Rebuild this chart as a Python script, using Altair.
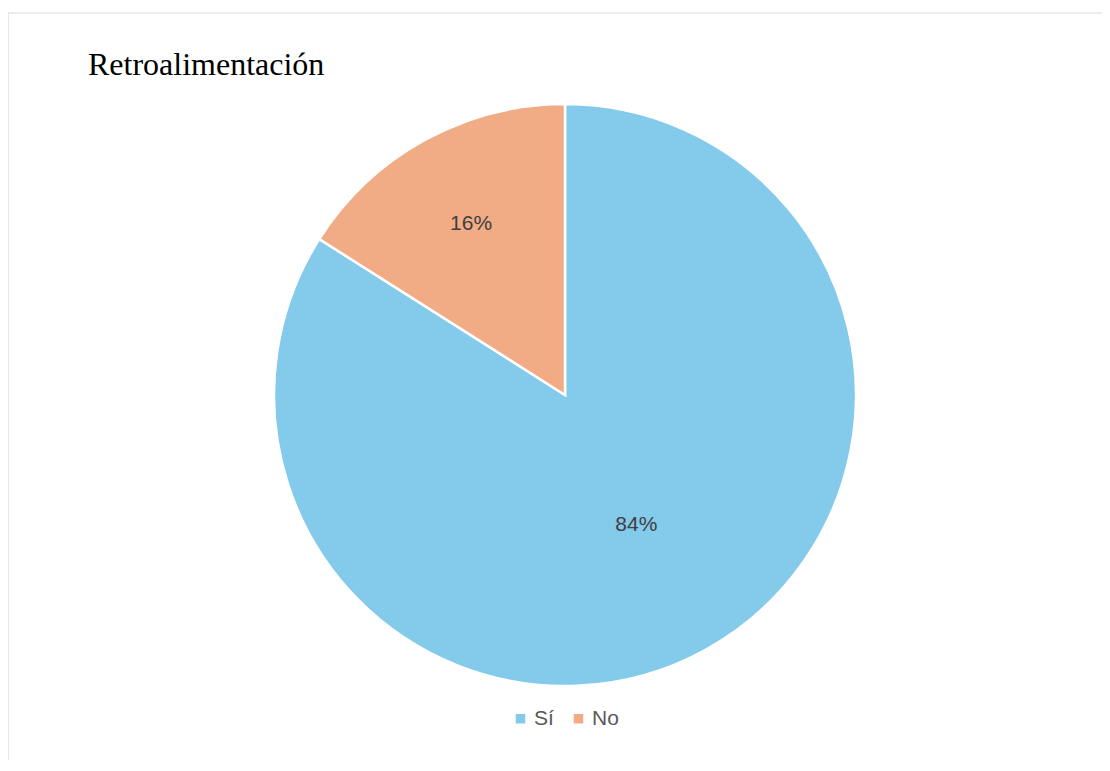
import altair as alt
import pandas as pd

categories = ["Sí", "No"]
values = [84, 16]
labels = ["84%", "16%"]
order = [0, 1]
title_text = ["Retroalimentación"]
colors = ["#83CAEB", "#F1AB85"]

df = pd.DataFrame({"cat": categories, "val": values, "label": labels, "ord": order})
title_df = pd.DataFrame({"t": title_text})
one = pd.DataFrame({"k": [0]})

W, H = 1094, 752
CX, CY = 557, 387

pie = alt.Chart(df).mark_arc(outerRadius=291, stroke="white", strokeWidth=2.5).encode(
    theta=alt.Theta("val:Q", stack=True),
    order=alt.Order("ord:Q"),
    x=alt.value(CX),
    y=alt.value(CY),
    color=alt.Color(
        "cat:N",
        scale=alt.Scale(domain=categories, range=colors),
        sort=categories,
        legend=alt.Legend(
            title=None,
            orient="none",
            legendX=502,
            legendY=700,
            direction="horizontal",
            symbolType="square",
            symbolSize=90,
            symbolStrokeWidth=0,
            labelFont="Liberation Sans",
            labelFontSize=21,
            labelColor="#595959",
            labelOffset=3,
            columnPadding=14,
            padding=0,
        ),
    ),
)

text = (
    alt.Chart(df)
    .transform_window(cum="sum(val)", sort=[alt.SortField("ord")], frame=[None, 0])
    .transform_calculate(mid="datum.cum - datum.val / 2")
    .mark_text(font="Liberation Sans", fontSize=21, color="#404040", align="center", baseline="middle")
    .encode(
        theta=alt.Theta("mid:Q", stack=None),
        x=alt.value(CX),
        y=alt.value(CY),
        text="label:N",
        radius=alt.Radius(
            "cat:N",
            scale=alt.Scale(type="point", domain=categories, range=[148, 195], padding=0),
        ),
    )
)

title = alt.Chart(title_df).mark_text(
    font="Liberation Serif", fontSize=32, color="#000000", align="left", baseline="alphabetic"
).encode(text="t:N", x=alt.value(80), y=alt.value(67))

top_rule = alt.Chart(one).mark_rule(color="#D9D9D9", strokeWidth=1.2).encode(
    x=alt.value(0), x2=alt.value(W), y=alt.value(5)
)
left_rule = alt.Chart(one).mark_rule(color="#D9D9D9", strokeWidth=1.2).encode(
    x=alt.value(0), y=alt.value(5), y2=alt.value(H)
)

chart = alt.layer(top_rule, left_rule, pie, text, title).properties(
    width=W, height=H, autosize=alt.AutoSizeParams(type="none"), padding=0
).configure_view(stroke=None)

chart.save("out.html", embed_options={"renderer": "svg", "actions": False})
